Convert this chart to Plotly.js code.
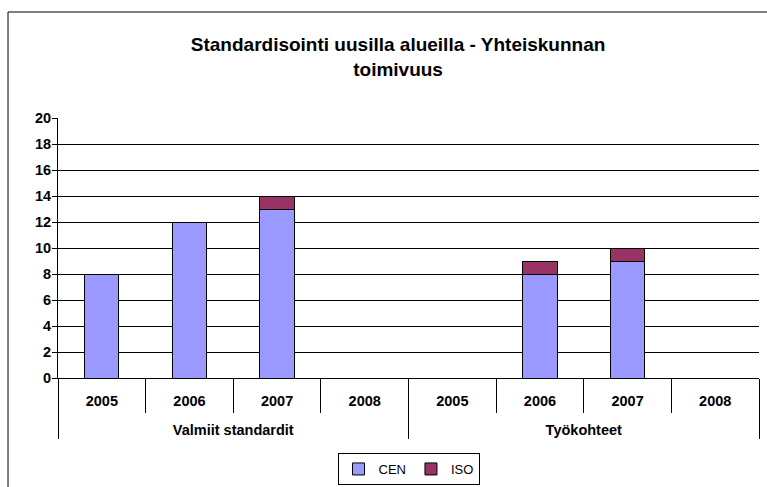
<!DOCTYPE html>
<html>
<head>
<meta charset="utf-8">
<script src="https://cdn.plot.ly/plotly-3.0.1.min.js"></script>
<style>
  body { margin: 0; background: #fff; }
  #chart { width: 767px; height: 487px; }
</style>
</head>
<body>
<div id="chart"></div>
<script>
var groups = ['Valmiit standardit', 'Valmiit standardit', 'Valmiit standardit', 'Valmiit standardit',
              'Työkohteet', 'Työkohteet', 'Työkohteet', 'Työkohteet'];
var years = ['2005', '2006', '2007', '2008', '2005', '2006', '2007', '2008'];
var cenValues = [8, 12, 13, 0, 0, 8, 9, 0];
var isoValues = [0, 0, 1, 0, 0, 1, 1, 0];

document.addEventListener('DOMContentLoaded', function() {
    var fontFamily = 'Arial, "Liberation Sans", sans-serif';

    // an empty second line makes the year row as tall as the Excel cell,
    // so the group row sits lower
    var yearLabels = years.map(function(y) {
        return y + '<br><span style="font-size:24px">\u00a0</span>';
    });
    var xCats = [groups, yearLabels];

    var cen = {
        x: xCats,
        y: cenValues,
        type: 'bar',
        name: 'CEN',
        marker: { color: '#9999FF', line: { color: '#000', width: 1 } }
    };

    var iso = {
        x: xCats,
        y: isoValues,
        type: 'bar',
        name: 'ISO',
        marker: { color: '#993366', line: { color: '#000', width: 1 } }
    };

    var layout = {
        width: 767,
        height: 487,
        barmode: 'stack',
        bargap: 0.61,
        font: { family: fontFamily, color: '#000' },
        paper_bgcolor: '#fff',
        plot_bgcolor: '#fff',
        margin: { l: 58, r: 8, t: 118, b: 109, autoexpand: false },
        title: {
            text: 'Standardisointi uusilla alueilla - Yhteiskunnan<br>toimivuus',
            font: { family: fontFamily, size: 19, weight: 'bold', color: '#000' },
            x: 0.519,
            xanchor: 'center',
            y: 0.895,
            yanchor: 'top'
        },
        xaxis: {
            type: 'multicategory',
            automargin: false,
            showline: true,
            linecolor: '#000',
            linewidth: 1,
            ticks: 'outside',
            tickson: 'boundaries',
            ticklen: 34,
            tickcolor: '#000',
            ticklabelstandoff: 10,
            showdividers: true,
            dividercolor: '#000',
            dividerwidth: 1,
            showgrid: false,
            tickfont: { family: fontFamily, size: 14.5, weight: 'bold', color: '#000' }
        },
        yaxis: {
            automargin: false,
            range: [0, 20],
            dtick: 2,
            showline: true,
            linecolor: '#000',
            ticks: 'outside',
            ticklen: 5,
            tickcolor: '#000',
            ticklabelstandoff: -2,
            gridcolor: '#000',
            zeroline: false,
            tickfont: { family: fontFamily, size: 14.5, weight: 'bold', color: '#000' }
        },
        legend: {
            orientation: 'h',
            traceorder: 'normal',
            x: 0.5,
            xanchor: 'center',
            y: -0.35,
            yanchor: 'middle',
            bordercolor: '#000',
            borderwidth: 1,
            font: { family: fontFamily, size: 13, color: '#000' },
            itemclick: false
        },
        shapes: [{
            type: 'rect',
            xref: 'paper', yref: 'paper',
            x0: -0.0713, x1: 1.2,
            y0: -1, y1: 1.4077,
            line: { color: '#000', width: 1 },
            fillcolor: 'rgba(0,0,0,0)',
            layer: 'below'
        }]
    };

    Plotly.newPlot('chart', [cen, iso], layout, { displayModeBar: false, staticPlot: true });
});
</script>
</body>
</html>
